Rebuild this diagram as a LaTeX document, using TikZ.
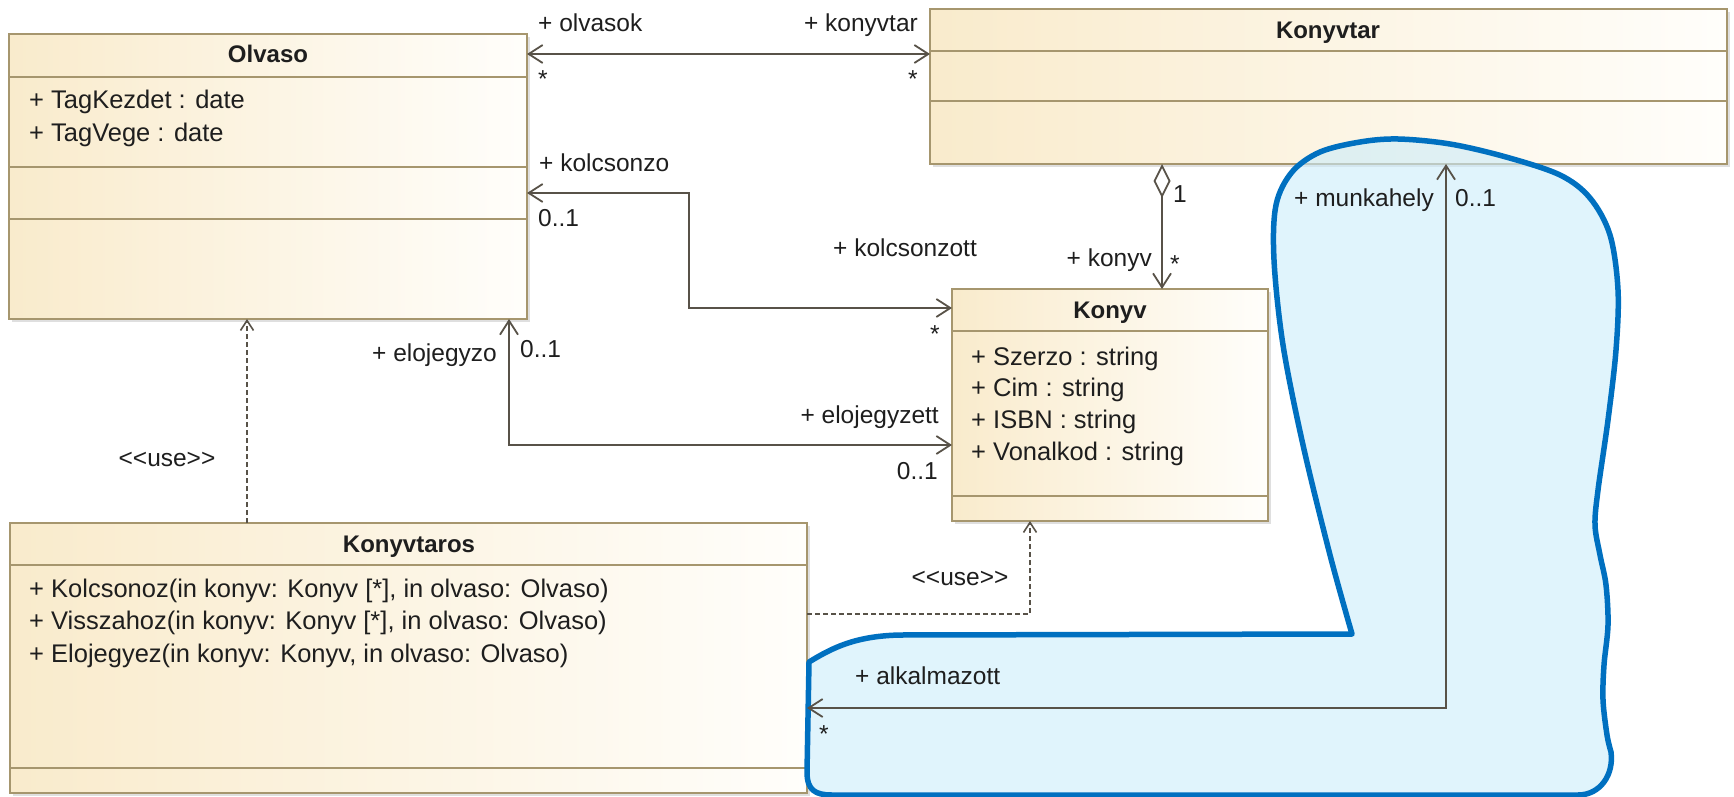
\documentclass[tikz,border=0pt]{standalone}
\usepackage{fontspec}
\setmainfont{Liberation Sans}
\usetikzlibrary{arrows.meta,shadows}

\definecolor{boxL}{RGB}{249,235,204}
\definecolor{boxR}{RGB}{255,254,251}
\definecolor{boxB}{RGB}{166,150,110}
\definecolor{wire}{RGB}{88,82,72}
\definecolor{ink}{RGB}{30,30,30}
\definecolor{blobfill}{RGB}{203,236,250}
\definecolor{blobline}{RGB}{0,112,192}

% stereotype text, kept apart so << and >> are not turned into guillemets
\newcommand{\stereo}[1]{<\kern0pt<#1>\kern0pt>}

\begin{document}
\begin{tikzpicture}[x=1pt,y=-1pt,
  classbox/.style={draw=boxB, line width=2.4pt, left color=boxL, right color=boxR,
    inner sep=0pt, outer sep=0pt, anchor=north west,
    drop shadow={shadow xshift=3pt, shadow yshift=-3pt, opacity=0.25}},
  divider/.style={draw=boxB, line width=2pt},
  title/.style={font=\fontsize{24}{28}\selectfont\bfseries, text=ink, anchor=base, inner sep=0pt},
  member/.style={font=\fontsize{25.5}{30}\selectfont, text=ink, anchor=base west, inner sep=0pt},
  role/.style={font=\fontsize{24.5}{28}\selectfont, text=ink, inner sep=0pt},
  wirestyle/.style={draw=wire, line width=1.8pt, line join=miter},
  assoc/.style={wirestyle, arrows={Straight Barb[length=14pt,width=18pt]-Straight Barb[length=14pt,width=18pt]}},
  aggr/.style={wirestyle, arrows={Diamond[open,length=34pt,width=17pt]-Straight Barb[length=14pt,width=18pt]}},
  usedep/.style={wirestyle, line width=1.6pt, dash pattern=on 5pt off 3pt, arrows={-Straight Barb[length=10pt,width=13pt]}},
  blob/.style={fill=blobfill, fill opacity=0.6, draw=blobline, line width=5.5pt, line join=round}
]
\useasboundingbox (0,0) rectangle (1734,797);

% ---------- classes ----------
\node[classbox, minimum width=518pt, minimum height=285pt] (olvaso) at (9,34) {};
\draw[divider] (olvaso.west |- 0,77) -- (olvaso.east |- 0,77);
\draw[divider] (olvaso.west |- 0,167) -- (olvaso.east |- 0,167);
\draw[divider] (olvaso.west |- 0,219) -- (olvaso.east |- 0,219);
\node[title] (olvasoTitle) at (268,63) {Olvaso};
\node[member] (olvasoA1) at (29,109) {+ TagKezdet : date};
\node[member] (olvasoA2) at (29,142) {+ TagVege : date};

\node[classbox, minimum width=797pt, minimum height=155pt] (konyvtar) at (930,9) {};
\draw[divider] (konyvtar.west |- 0,51) -- (konyvtar.east |- 0,51);
\draw[divider] (konyvtar.west |- 0,101) -- (konyvtar.east |- 0,101);
\node[title] (konyvtarTitle) at (1328,39) {Konyvtar};

\node[classbox, minimum width=316pt, minimum height=232pt] (konyv) at (952,289) {};
\draw[divider] (konyv.west |- 0,331) -- (konyv.east |- 0,331);
\draw[divider] (konyv.west |- 0,496) -- (konyv.east |- 0,496);
\node[title] (konyvTitle) at (1110,318) {Konyv};
\node[member] (konyvA1) at (971,365) {+ Szerzo : string};
\node[member] (konyvA2) at (971,396) {+ Cim : string};
\node[member] (konyvA3) at (971,428) {+ ISBN : string};
\node[member] (konyvA4) at (971,460) {+ Vonalkod : string};

\node[classbox, minimum width=797pt, minimum height=270pt] (konyvtaros) at (10,523) {};
\draw[divider] (konyvtaros.west |- 0,565) -- (konyvtaros.east |- 0,565);
\draw[divider] (konyvtaros.west |- 0,768) -- (konyvtaros.east |- 0,768);
\node[title] (konyvtarosTitle) at (409,552) {Konyvtaros};
\node[member] (konyvtarosO1) at (29,597) {+ Kolcsonoz(in konyv: Konyv [*], in olvaso: Olvaso)};
\node[member] (konyvtarosO2) at (29,629) {+ Visszahoz(in konyv: Konyv [*], in olvaso: Olvaso)};
\node[member] (konyvtarosO3) at (29,662) {+ Elojegyez(in konyv: Konyv, in olvaso: Olvaso)};

% ---------- highlighted region ----------
\path[blob] (1352,634) -- (900,635) .. controls (855,636) and (832,648) .. (809,662)
  -- (807,772) .. controls (807,790) and (815,795) .. (832,795)
  -- (1578,795) .. controls (1600,795) and (1614,775) .. (1611,752)
  -- plot[smooth, tension=0.55] coordinates {(1611,752) (1607,735) (1603,700) (1604,665)
     (1608,625) (1606,585) (1600,555) (1595,525) (1598,490) (1608,420) (1616,350)
     (1618,290) (1610,235) (1590,198) (1560,175) (1506,157) (1450,144) (1398,139)
     (1360,142) (1320,152) (1292,172) (1276,205) (1274,260) (1283,345) (1303,445)
     (1330,555) (1352,634)} -- cycle;

% ---------- associations ----------
\draw[assoc] (olvaso.east |- 0,54) -- (konyvtar.west |- 0,54);
\draw[assoc] (olvaso.east |- 0,193) -- (689,193) -- (689,308) -- (konyv.west |- 0,308);
\draw[assoc] (olvaso.south -| 509,0) -- (509,445) -- (konyv.west |- 0,445);
\draw[aggr] (konyvtar.south -| 1162,0) -- (konyv.north -| 1162,0);
\draw[assoc] (konyvtaros.east |- 0,708) -- (1446,708) -- (konyvtar.south -| 1446,0);
\draw[usedep] (konyvtaros.north -| 247,0) -- (olvaso.south -| 247,0);
\draw[usedep] (konyvtaros.east |- 0,614) -- (1030,614) -- (konyv.south -| 1030,0);

% ---------- role names and multiplicities ----------
\node[role, anchor=base west] (rOlvasok) at (538,32) {+ olvasok};
\node[role, anchor=base] (mOlvasok) at (543,88) {*};
\node[role, anchor=base east] (rKonyvtar) at (918,32) {+ konyvtar};
\node[role, anchor=base] (mKonyvtar) at (913,88) {*};

\node[role, anchor=base west] (rKolcsonzo) at (539,171) {+ kolcsonzo};
\node[role, anchor=base west] (mKolcsonzo) at (538,226) {0..1};
\node[role, anchor=base west] (rKolcsonzott) at (833,256) {+ kolcsonzott};
\node[role, anchor=base] (mKolcsonzott) at (935,342) {*};

\node[role, anchor=base east] (rElojegyzo) at (497,361) {+ elojegyzo};
\node[role, anchor=base west] (mElojegyzo) at (520,357) {0..1};
\node[role, anchor=base east] (rElojegyzett) at (939,423) {+ elojegyzett};
\node[role, anchor=base east] (mElojegyzett) at (938,479) {0..1};

\node[role, anchor=base west] (mTar) at (1173,202) {1};
\node[role, anchor=base east] (rKonyv) at (1152,266) {+ konyv};
\node[role, anchor=base] (mKonyv) at (1175,272) {*};

\node[role, anchor=base east] (rMunkahely) at (1434,206) {+ munkahely};
\node[role, anchor=base west] (mMunkahely) at (1455,206) {0..1};
\node[role, anchor=base west] (rAlkalmazott) at (855,684) {+ alkalmazott};
\node[role, anchor=base] (mAlkalmazott) at (824,742) {*};

\node[role, anchor=base] (use1) at (167,466) {\stereo{use}};
\node[role, anchor=base] (use2) at (960,585) {\stereo{use}};
\end{tikzpicture}
\end{document}
